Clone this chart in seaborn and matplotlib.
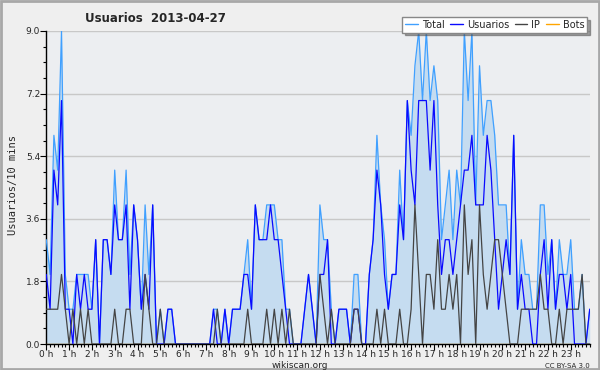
import numpy as np
import pandas as pd
import matplotlib
matplotlib.use('Agg')
import matplotlib.pyplot as plt
from matplotlib.ticker import MultipleLocator, FixedLocator
from matplotlib.lines import Line2D
from matplotlib.patches import Rectangle
import seaborn as sns

# editions per 10-minute slot, 2013-04-27 (144 slots)
total = [3, 2, 6, 5, 9, 2, 1, 1, 2, 2, 2, 2, 1, 3, 0, 3, 3, 2, 5, 3, 3, 5, 2, 4,
         3, 1, 4, 2, 4, 0, 1, 0, 1, 1, 0, 0, 0, 0, 0, 0, 0, 0, 0, 0, 1, 1, 0, 1,
         0, 1, 1, 1, 2, 3, 1, 4, 3, 3, 4, 4, 4, 3, 3, 1, 1, 0, 0, 0, 1, 2, 1, 0,
         4, 3, 3, 1, 0, 1, 1, 1, 0, 2, 2, 0, 0, 2, 3, 6, 4, 3, 1, 2, 2, 5, 3, 7,
         6, 8, 9, 7, 9, 7, 8, 7, 3, 4, 5, 3, 5, 4, 9, 7, 9, 4, 8, 6, 7, 7, 6, 4,
         4, 4, 2, 6, 1, 3, 2, 2, 1, 1, 4, 4, 2, 3, 1, 3, 2, 2, 3, 1, 1, 2, 0, 1]
usuarios = [2, 1, 5, 4, 7, 1, 1, 0, 2, 1, 2, 1, 1, 3, 0, 3, 3, 2, 4, 3, 3, 4, 1, 4,
            3, 1, 2, 1, 4, 0, 0, 0, 1, 1, 0, 0, 0, 0, 0, 0, 0, 0, 0, 0, 1, 0, 0, 1,
            0, 1, 1, 1, 2, 2, 1, 4, 3, 3, 3, 4, 3, 3, 2, 1, 0, 0, 0, 0, 1, 2, 1, 0,
            2, 2, 3, 0, 0, 1, 1, 1, 0, 1, 1, 0, 0, 2, 3, 5, 4, 2, 1, 2, 2, 4, 3, 7,
            5, 4, 7, 7, 7, 5, 7, 4, 2, 3, 3, 2, 3, 4, 5, 5, 6, 4, 4, 4, 6, 5, 3, 1,
            2, 3, 2, 6, 1, 2, 1, 1, 0, 0, 2, 3, 1, 3, 1, 2, 2, 1, 2, 0, 0, 0, 0, 1]
ip = [1, 1, 1, 1, 2, 1, 0, 1, 0, 1, 0, 1, 0, 0, 0, 0, 0, 0, 1, 0, 0, 1, 1, 0,
      0, 0, 2, 1, 0, 0, 1, 0, 0, 0, 0, 0, 0, 0, 0, 0, 0, 0, 0, 0, 0, 1, 0, 0,
      0, 0, 0, 0, 0, 1, 0, 0, 0, 0, 1, 0, 1, 0, 1, 0, 1, 0, 0, 0, 0, 0, 0, 0,
      2, 1, 0, 1, 0, 0, 0, 0, 0, 1, 1, 0, 0, 0, 0, 1, 0, 1, 0, 0, 0, 1, 0, 0,
      1, 4, 2, 0, 2, 2, 1, 3, 1, 1, 2, 1, 2, 0, 4, 2, 3, 0, 4, 2, 1, 2, 3, 3,
      2, 1, 0, 0, 0, 1, 1, 1, 1, 1, 2, 1, 1, 0, 0, 1, 0, 1, 1, 1, 1, 2, 0, 0]
bots = [0, 0, 0, 0, 0, 0, 0, 0, 0, 0, 0, 0, 0, 0, 0, 0, 0, 0, 0, 0, 0, 0, 0, 0,
        0, 0, 0, 0, 0, 0, 0, 0, 0, 0, 0, 0, 0, 0, 0, 0, 0, 0, 0, 0, 0, 0, 0, 0,
        0, 0, 0, 0, 0, 0, 0, 0, 0, 0, 0, 0, 0, 0, 0, 0, 0, 0, 0, 0, 0, 0, 0, 0,
        0, 0, 0, 0, 0, 0, 0, 0, 0, 0, 0, 0, 0, 0, 0, 0, 0, 0, 0, 0, 0, 0, 0, 0,
        0, 0, 0, 0, 0, 0, 0, 0, 0, 0, 0, 0, 0, 0, 0, 0, 0, 0, 0, 0, 0, 0, 0, 0,
        0, 0, 0, 0, 0, 0, 0, 0, 0, 0, 0, 0, 0, 0, 0, 0, 0, 0, 0, 0, 0, 0, 0, 0]
hour_labels = [f'{h} h' for h in range(24)]
y_ticks = [0.0, 1.8, 3.6, 5.4, 7.2, 9.0]

df = pd.DataFrame({'hour': np.arange(len(total)) / 6,
                   'Total': total, 'Usuarios': usuarios, 'IP': ip, 'Bots': bots})

colors = {'Total': '#40a0ff', 'Usuarios': '#0a0aff', 'IP': '#444444', 'Bots': '#ffa500'}

sns.set_theme(style='white')
plt.rcParams['font.family'] = ['DejaVu Sans']

fig = plt.figure(figsize=(6, 3.7), dpi=100, facecolor='#efefef')
fig.patches.append(Rectangle((0.0015, 0.0025), 0.997, 0.995, transform=fig.transFigure,
                             fill=False, edgecolor='#a8a8a8', lw=2))
ax = fig.add_axes([46.3 / 600, 26 / 370, 543.8 / 600, 313 / 370])
ax.set_facecolor('#eceef1')

ax.fill_between(df['hour'], df['Total'], color='#c5dcf0', lw=0, zorder=1)
for s in ['Bots', 'Total', 'Usuarios', 'IP']:
    sns.lineplot(data=df, x='hour', y=s, color=colors[s], lw=0.9, ax=ax, zorder=3)

ax.set_xlim(0, 23.85)
ax.set_ylim(0, 9)
ax.yaxis.set_major_locator(FixedLocator(y_ticks))
ax.set_yticklabels([f'{v:.1f}' for v in y_ticks])
ax.yaxis.set_minor_locator(MultipleLocator(0.45))
ax.xaxis.set_major_locator(FixedLocator(range(24)))
ax.set_xticklabels(hour_labels)
ax.xaxis.set_minor_locator(MultipleLocator(1 / 6))
ax.grid(axis='y', color='#c8c8c8', lw=1)
ax.set_axisbelow(True)
ax.tick_params(axis='both', which='both', direction='out', color='black',
               bottom=True, left=True, labelsize=6.5, pad=0.5)
ax.tick_params(axis='both', which='major', length=4, width=0.8)
ax.tick_params(axis='both', which='minor', length=2.5, width=0.8)
for side in ['top', 'right']:
    ax.spines[side].set_visible(False)
for side in ['left', 'bottom']:
    ax.spines[side].set_color('black')
    ax.spines[side].set_linewidth(1)
ax.set_xlabel('')
ax.set_ylabel('')

fig.text(85 / 600, 1 - 18 / 370, 'Usuarios  2013-04-27', fontsize=8.5, fontweight='bold',
         ha='left', va='center')
fig.text(0.021, 0.5, 'Usuarios/10 mins', rotation=90, fontsize=7.5,
         family='DejaVu Sans Mono', ha='center', va='center')
fig.text(0.5, 1 - 365 / 370, 'wikiscan.org', fontsize=6.5, ha='center', va='center')
fig.text(590 / 600, 1 - 366 / 370, 'CC BY-SA 3.0', fontsize=5, ha='right', va='center')

handles = [Line2D([], [], color=colors[s], lw=1) for s in ['Total', 'Usuarios', 'IP', 'Bots']]
leg = fig.legend(handles, ['Total', 'Usuarios', 'IP', 'Bots'], loc='upper right',
                 bbox_to_anchor=(592 / 600, 1 - 12 / 370), ncol=4, fontsize=7,
                 handlelength=1.3, handletextpad=0.4, columnspacing=0.6,
                 frameon=True, fancybox=False, shadow=True, borderpad=0.3)
leg.get_frame().set_edgecolor('#888888')
leg.get_frame().set_facecolor('white')

fig.savefig('out.png', dpi=100, facecolor=fig.get_facecolor())
